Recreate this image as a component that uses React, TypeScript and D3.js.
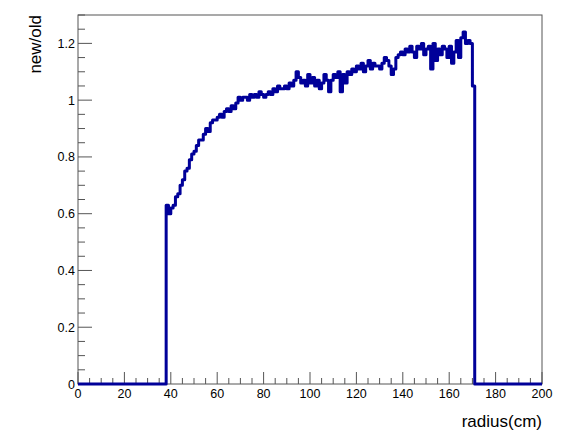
import React from "react";
import * as d3 from "d3";

const xDomain = [0, 200];
const yDomain = [0, 1.3];
const binWidth = 1;
const firstBin = 38;
const ratioValues = [
  0.63, 0.60, 0.62, 0.63, 0.66, 0.67, 0.70, 0.72, 0.75, 0.76,
  0.79, 0.81, 0.82, 0.84, 0.86, 0.86, 0.88, 0.90, 0.89, 0.92,
  0.93, 0.93, 0.94, 0.95, 0.94, 0.96, 0.97, 0.96, 0.98, 0.97,
  0.99, 1.01, 1.00, 1.01, 1.01, 1.00, 1.02, 1.01, 1.02, 1.01,
  1.03, 1.02, 1.01, 1.02, 1.03, 1.02, 1.04, 1.03, 1.05, 1.04,
  1.04, 1.05, 1.04, 1.06, 1.05, 1.07, 1.10, 1.08, 1.06, 1.07,
  1.05, 1.09, 1.06, 1.08, 1.05, 1.07, 1.04, 1.06, 1.09, 1.07,
  1.03, 1.07, 1.09, 1.08, 1.10, 1.03, 1.09, 1.06, 1.10, 1.09,
  1.11, 1.10, 1.12, 1.11, 1.13, 1.10, 1.12, 1.14, 1.11, 1.13,
  1.12, 1.12, 1.11, 1.13, 1.15, 1.14, 1.12, 1.09, 1.11, 1.15,
  1.16, 1.17, 1.16, 1.18, 1.17, 1.19, 1.17, 1.15, 1.19, 1.18,
  1.20, 1.16, 1.18, 1.19, 1.11, 1.20, 1.14, 1.18, 1.16, 1.19,
  1.18, 1.15, 1.19, 1.13, 1.17, 1.21, 1.15, 1.22, 1.24, 1.20,
  1.21, 1.20, 1.05,
];
const xTicks = [0, 20, 40, 60, 80, 100, 120, 140, 160, 180, 200];
const yTicks = [0, 0.2, 0.4, 0.6, 0.8, 1, 1.2];
const xTitle = "radius(cm)";
const yTitle = "new/old";

const W = 571;
const H = 435;
const L = 78, R = 542, T = 15, B = 384;
const lineColor = "#000099";
const frameColor = "#555";
const font = "'Liberation Sans', Arial, Helvetica, sans-serif";

export default function App() {
  const x = d3.scaleLinear().domain(xDomain).range([L, R]);
  const y = d3.scaleLinear().domain(yDomain).range([B, T]);

  const nBins = Math.round((xDomain[1] - xDomain[0]) / binWidth);
  const vals: number[] = [];
  for (let i = 0; i < nBins; i++) {
    const idx = i - (firstBin - xDomain[0]) / binWidth;
    vals.push(idx >= 0 && idx < ratioValues.length ? ratioValues[idx] : 0);
  }
  let d = "";
  vals.forEach((v, i) => {
    const x0 = x(xDomain[0] + i * binWidth);
    const x1 = x(xDomain[0] + (i + 1) * binWidth);
    const yy = y(v);
    d += (i === 0 ? `M${x0},${yy}` : `L${x0},${yy}`) + `L${x1},${yy}`;
  });

  const xMinor = d3.range(xDomain[0], xDomain[1] + 0.001, 5);
  const yMinor = d3.range(0, 1.3001, 0.05);

  return (
    <svg
      width={W}
      height={H}
      style={{ position: "absolute", left: 0, top: 0, display: "block", background: "#fff" }}
    >
      <rect x={0} y={0} width={W} height={H} fill="#fff" />
      <rect x={L} y={T} width={R - L} height={B - T} fill="none" stroke={frameColor} strokeWidth={1} />
      {xMinor.map((t) => {
        const major = Math.abs(t % 20) < 1e-6;
        return (
          <line key={"xm" + t} x1={x(t)} x2={x(t)} y1={B} y2={B - (major ? 12 : 6)} stroke={frameColor} strokeWidth={1} />
        );
      })}
      {xTicks.map((t) => (
        <text key={"xl" + t} x={x(t)} y={398} textAnchor="middle" fontFamily={font} fontSize={12.5} fill="#000">
          {t}
        </text>
      ))}
      {yMinor.map((t, i) => {
        const major = i % 4 === 0;
        return (
          <line key={"ym" + i} x1={L} x2={L + (major ? 14 : 7)} y1={y(t)} y2={y(t)} stroke={frameColor} strokeWidth={1} />
        );
      })}
      {yTicks.map((t) => (
        <text key={"yl" + t} x={75} y={y(t) + 4.5} textAnchor="end" fontFamily={font} fontSize={12.5} fill="#000">
          {d3.format("~g")(t)}
        </text>
      ))}
      <path d={d} fill="none" stroke={lineColor} strokeWidth={3} strokeLinejoin="round" />
      <text x={R} y={427} textAnchor="end" fontFamily={font} fontSize={17} fill="#000">
        {xTitle}
      </text>
      <text
        transform={`translate(41,${T}) rotate(-90)`}
        textAnchor="end"
        fontFamily={font}
        fontSize={17}
        fill="#000"
      >
        {yTitle}
      </text>
    </svg>
  );
}
